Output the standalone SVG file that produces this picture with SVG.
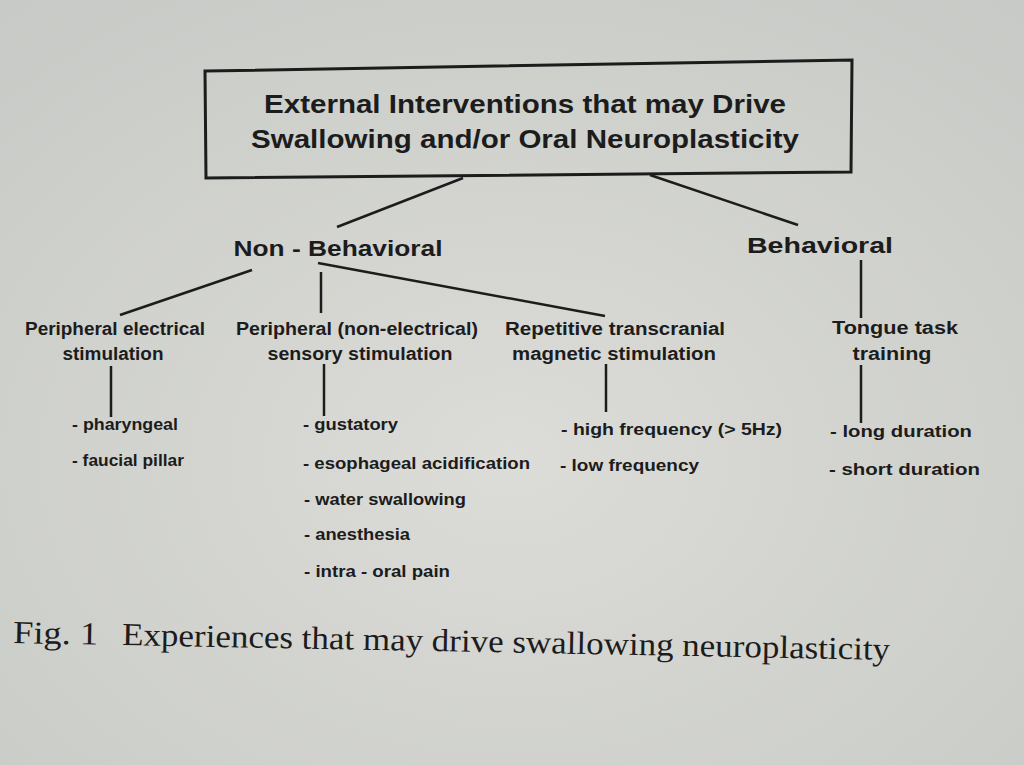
<svg xmlns="http://www.w3.org/2000/svg" width="1024" height="765" viewBox="0 0 1024 765">
<defs>
<radialGradient id="bg" cx="0.5" cy="0.6" r="0.8">
<stop offset="0" stop-color="#dcdcd8"/>
<stop offset="1" stop-color="#c6c9c5"/>
</radialGradient>
</defs>
<style>
.t{font-family:"Liberation Sans",Arial,sans-serif;font-weight:bold;fill:#1c1c1c}
.h1{font-size:25px}
.h2{font-size:22px}
.h3{font-size:18px}
.it{font-size:17px}
.ln{stroke:#1c1c1c;stroke-width:2.5;fill:none}
.cap{font-family:"Liberation Serif","Times New Roman",serif;font-size:32px;fill:#1c1c1c}
</style>
<rect width="1024" height="765" fill="url(#bg)"/>
<g id="root">
<polygon points="205,71 852,60 851,172 206,178" fill="none" stroke="#1c1c1c" stroke-width="3"/>
<text class="t h1" x="525" y="113" text-anchor="middle" textLength="522" lengthAdjust="spacingAndGlyphs">External Interventions that may Drive</text>
<text class="t h1" x="525" y="148" text-anchor="middle" textLength="548" lengthAdjust="spacingAndGlyphs">Swallowing and/or Oral Neuroplasticity</text>
</g>
<g id="connectors">
<line class="ln" x1="463" y1="178" x2="337" y2="227"/>
<line class="ln" x1="650" y1="175" x2="798" y2="225"/>
<line class="ln" x1="252" y1="270" x2="120" y2="315"/>
<line class="ln" x1="321" y1="272" x2="321" y2="313"/>
<line class="ln" x1="318" y1="263" x2="605" y2="316"/>
<line class="ln" x1="861" y1="260" x2="861" y2="318"/>
<line class="ln" x1="111" y1="366" x2="111" y2="417"/>
<line class="ln" x1="324" y1="364" x2="324" y2="416"/>
<line class="ln" x1="606" y1="364" x2="606" y2="412"/>
<line class="ln" x1="861" y1="365" x2="861" y2="423"/>
</g>
<g id="nonbehavioral">
<text class="t h2" x="338" y="256" text-anchor="middle" textLength="209" lengthAdjust="spacingAndGlyphs">Non - Behavioral</text>
</g>
<g id="behavioral">
<text class="t h2" x="820" y="253" text-anchor="middle" textLength="146" lengthAdjust="spacingAndGlyphs">Behavioral</text>
</g>
<g id="pes">
<text class="t h3" x="115" y="335" text-anchor="middle" textLength="180" lengthAdjust="spacingAndGlyphs">Peripheral electrical</text>
<text class="t h3" x="113" y="360" text-anchor="middle" textLength="101" lengthAdjust="spacingAndGlyphs">stimulation</text>
<text class="t it" x="72" y="430" textLength="106" lengthAdjust="spacingAndGlyphs">- pharyngeal</text>
<text class="t it" x="72" y="466" textLength="112" lengthAdjust="spacingAndGlyphs">- faucial pillar</text>
</g>
<g id="pss">
<text class="t h3" x="357" y="335" text-anchor="middle" textLength="242" lengthAdjust="spacingAndGlyphs">Peripheral (non-electrical)</text>
<text class="t h3" x="360" y="360" text-anchor="middle" textLength="185" lengthAdjust="spacingAndGlyphs">sensory stimulation</text>
<text class="t it" x="303" y="430" textLength="95" lengthAdjust="spacingAndGlyphs">- gustatory</text>
<text class="t it" x="303" y="469" textLength="227" lengthAdjust="spacingAndGlyphs">- esophageal acidification</text>
<text class="t it" x="304" y="505" textLength="162" lengthAdjust="spacingAndGlyphs">- water swallowing</text>
<text class="t it" x="304" y="540" textLength="106" lengthAdjust="spacingAndGlyphs">- anesthesia</text>
<text class="t it" x="304" y="577" textLength="146" lengthAdjust="spacingAndGlyphs">- intra - oral pain</text>
</g>
<g id="rtms">
<text class="t h3" x="615" y="335" text-anchor="middle" textLength="220" lengthAdjust="spacingAndGlyphs">Repetitive transcranial</text>
<text class="t h3" x="614" y="360" text-anchor="middle" textLength="204" lengthAdjust="spacingAndGlyphs">magnetic stimulation</text>
<text class="t it" x="561" y="435" textLength="221" lengthAdjust="spacingAndGlyphs">- high frequency (&gt; 5Hz)</text>
<text class="t it" x="560" y="471" textLength="139" lengthAdjust="spacingAndGlyphs">- low frequency</text>
</g>
<g id="tongue">
<text class="t h3" x="895" y="334" text-anchor="middle" textLength="126" lengthAdjust="spacingAndGlyphs">Tongue task</text>
<text class="t h3" x="892" y="360" text-anchor="middle" textLength="79" lengthAdjust="spacingAndGlyphs">training</text>
<text class="t it" x="830" y="437" textLength="142" lengthAdjust="spacingAndGlyphs">- long duration</text>
<text class="t it" x="829" y="475" textLength="151" lengthAdjust="spacingAndGlyphs">- short duration</text>
</g>
<g id="caption" transform="rotate(1.1 13 643)">
<text class="cap" x="13" y="643" textLength="85" lengthAdjust="spacingAndGlyphs">Fig. 1</text>
<text class="cap" x="122" y="643" textLength="768" lengthAdjust="spacingAndGlyphs">Experiences that may drive swallowing neuroplasticity</text>
</g>
</svg>
